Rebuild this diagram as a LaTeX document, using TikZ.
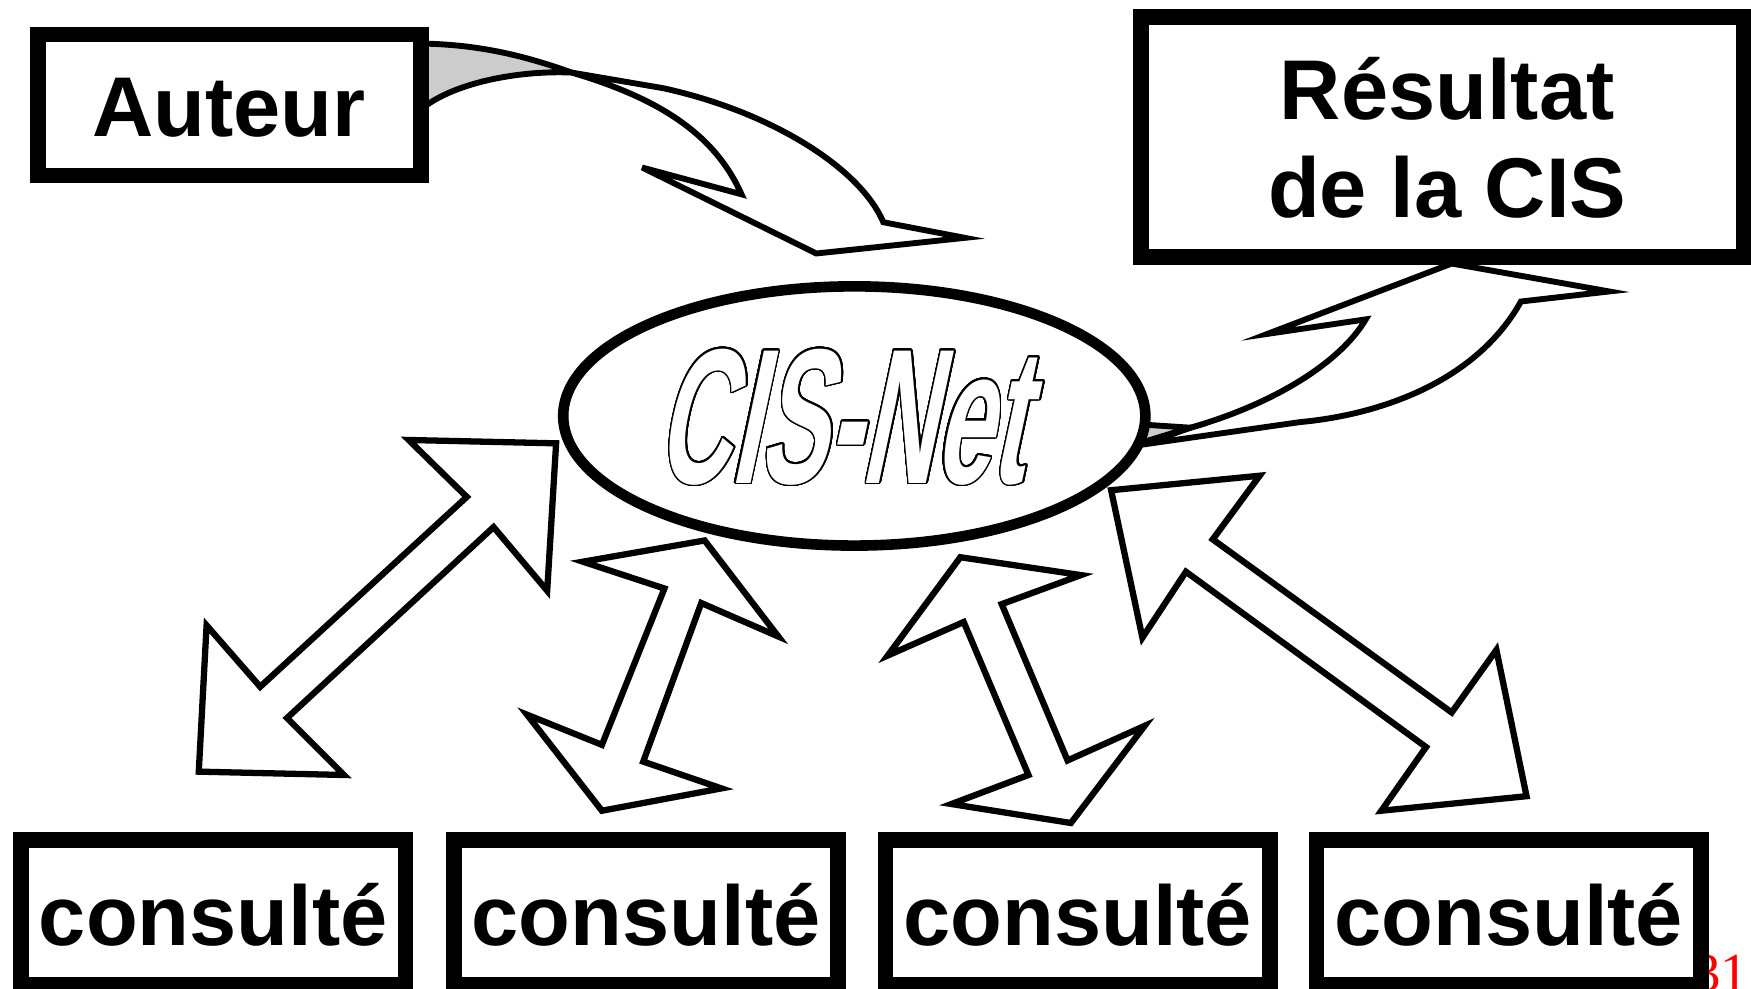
\documentclass[tikz,border=0pt]{standalone}
\usepackage{fontspec}
\usetikzlibrary{shapes.geometric}
\setmainfont{Liberation Sans}
\newfontfamily\numfont{Liberation Serif}
\newfontfamily\cisfont{Liberation Sans}[FakeSlant=0.4]
\usepackage{contour}
\contourlength{0.4pt}
\contournumber{32}
\newcommand\lblfont{\bfseries\fontsize{21.6pt}{26pt}\selectfont}
\begin{document}
\begin{tikzpicture}[x=0.01cm, y=-0.01cm,
  box/.style={draw, line width=4pt, fill=white, inner sep=0pt, minimum width=3.44cm, minimum height=1.30cm},
  lbl/.style={font=\lblfont, inner sep=0pt, anchor=base},
  blockarrow/.style={draw, fill=white, line width=1.6pt, line join=miter},
  curvearrow/.style={draw, fill=white, line width=1.5pt, line join=miter},
  backside/.style={draw, fill=black!20, line width=1.5pt, line join=miter}]
\useasboundingbox (0,0) rectangle (1568,885);
\fill[white] (0,0) rectangle (1568,885);

% page number
\node[font=\numfont\fontsize{14pt}{14pt}\selectfont, text=red, inner sep=0pt, anchor=base east] (pagenum) at (1566,888) {31};

% curved arrow from Auteur
\path[backside] (378,39) .. controls (430,40) and (470,50) .. (512,65)
   .. controls (470,63) and (410,72) .. (378,97) -- cycle;
\path[curvearrow] (512,65) -- (594,79) .. controls (690,100) and (770,150) .. (791,199)
   -- (864,213) -- (731,227) -- (575,150) -- (664,174)
   .. controls (640,120) and (590,88) .. (512,65) -- cycle;

% curved arrow to Resultat
\path[curvearrow] (1066,383) .. controls (1140,362) and (1200,325) .. (1223,286)
   -- (1135,299) -- (1300,236) -- (1441,261) -- (1362,270)
   .. controls (1320,345) and (1230,372) .. (1164,378) -- (1024,398) -- cycle;
\path[backside] (1020,380) -- (1066,383) -- (1020,397) -- cycle;

% boxes top
\node[box, minimum width=3.43cm, minimum height=1.26cm] (auteurbox) at (205.5,94) {};
\node[lbl] (auteur) at (205,122) {Auteur};
\node[box, minimum width=5.39cm, minimum height=2.15cm] (resbox) at (1291.5,122.5) {};
\node[lbl] (res1) at (1296,107) {Résultat};
\node[lbl] (res2) at (1296,195) {de la CIS};

% double block arrows
\path[blockarrow] (366,394) -- (498,397) -- (490,529) -- (442,472) -- (257,643)
   -- (308,694) -- (178,691) -- (185,560) -- (233,615) -- (418,445) -- cycle;
\path[blockarrow] (631,484) -- (697,570) -- (628,540) -- (576,682) -- (646,706)
   -- (539,726) -- (472,640) -- (539,667) -- (595,527) -- (522,503) -- cycle;
\path[blockarrow] (860,499) -- (968,515) -- (897,541) -- (956,681) -- (1025,650)
   -- (959,737) -- (852,720) -- (921,694) -- (863,557) -- (795,587) -- cycle;
\path[blockarrow] (995,439) -- (1128,426) -- (1086,483) -- (1300,638) -- (1340,582)
   -- (1367,713) -- (1237,726) -- (1277,669) -- (1062,512) -- (1023,571) -- cycle;

% ellipse
\node[draw, fill=white, line width=2.7pt, ellipse, minimum width=5.21cm, minimum height=2.32cm, inner sep=0pt] (cisbox) at (765,372.5) {};
\node[inner sep=0pt] (cisnet) at (752,374) {\color{white}\contour{black}{\scalebox{0.53}[1]{\cisfont\bfseries\fontsize{49pt}{50pt}\selectfont CIS-Net}}};

% consulte boxes
\node[box] (c1box) at (191,817) {};
\node[box] (c2box) at (578.5,817) {};
\node[box] (c3box) at (965,817) {};
\node[box] (c4box) at (1351,817) {};
\node[lbl] (c1) at (191,847) {consulté};
\node[lbl] (c2) at (578.5,847) {consulté};
\node[lbl] (c3) at (965,847) {consulté};
\node[lbl] (c4) at (1351,847) {consulté};
\end{tikzpicture}
\end{document}
